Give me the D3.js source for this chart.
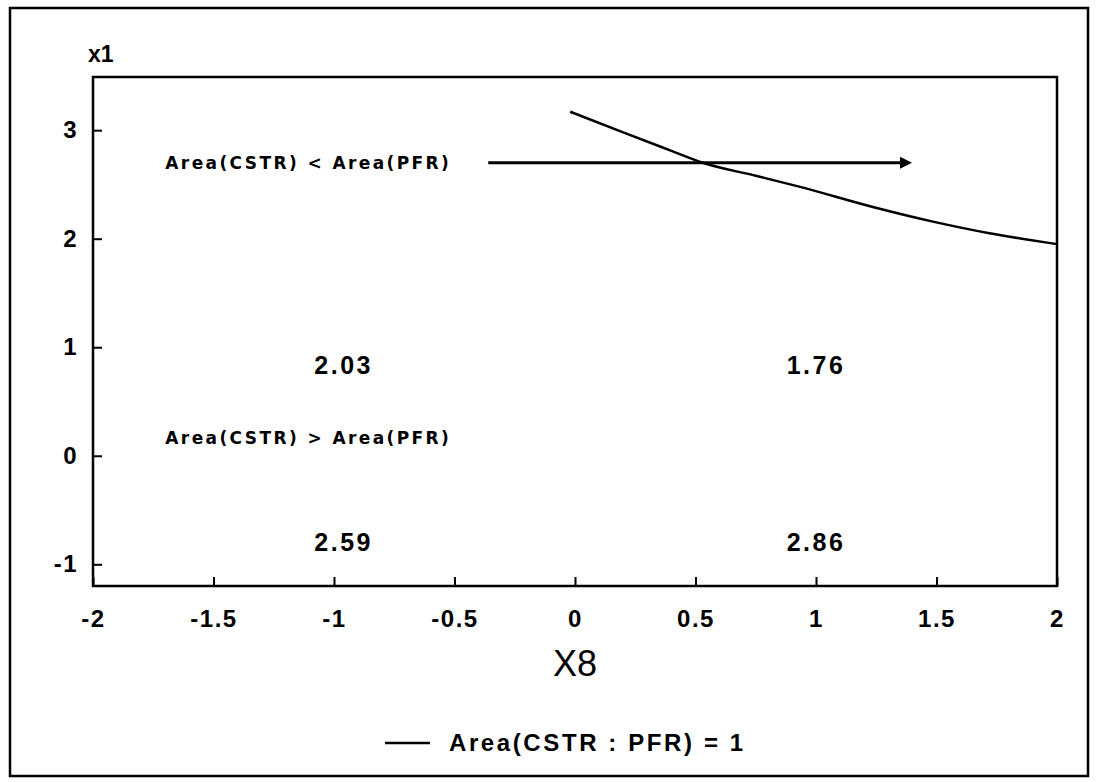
<!DOCTYPE html>
<html>
<head>
<meta charset="utf-8">
<script src="https://cdn.jsdelivr.net/npm/d3@7"></script>
<style>
  body { margin: 0; background: #fff; }
  svg { display: block; }
  text { font-family: "Liberation Sans", Arial, sans-serif; fill: #000; }
</style>
</head>
<body>
<svg width="1096" height="782"></svg>
<script>
const svg = d3.select("svg");

// boundary curve, Area(CSTR : PFR) = 1
const curveX = [-0.02, 0.2, 0.4, 0.53, 0.75, 0.93, 1.24, 1.49, 1.72, 2.0];
const curveY = [3.17, 2.98, 2.81, 2.70, 2.58, 2.48, 2.29, 2.155, 2.05, 1.95];

const xTicks = [-2, -1.5, -1, -0.5, 0, 0.5, 1, 1.5, 2];
const yTicks = [-1, 0, 1, 2, 3];

const arrowX = [-0.36, 1.40];
const arrowY = 2.70;

const regionLabels = ["Area(CSTR) < Area(PFR)", "Area(CSTR) > Area(PFR)"];
const regionX = [-1.70, -1.70];
const regionY = [2.70, 0.16];

const valueLabels = ["2.03", "1.76", "2.59", "2.86"];
const valueX = [-0.96, 1.0, -0.96, 1.0];
const valueY = [0.83, 0.83, -0.80, -0.80];

const legendLabel = "Area(CSTR : PFR) = 1";

const margin = { left: 93, right: 1057, top: 77, bottom: 586 };

const x = d3.scaleLinear().domain([-2, 2]).range([margin.left, margin.right]);
const y = d3.scaleLinear().domain([-1.2, 3.49]).range([margin.bottom, margin.top]);

// outer border
svg.append("rect")
  .attr("x", 10).attr("y", 8)
  .attr("width", 1078).attr("height", 768)
  .attr("fill", "none").attr("stroke", "#000").attr("stroke-width", 2.5);

// axes
const xAxis = svg.append("g")
  .attr("transform", `translate(0,${margin.bottom})`)
  .call(d3.axisBottom(x).tickValues(xTicks).tickSize(-9).tickPadding(24).tickFormat(d => String(d)));

const yAxis = svg.append("g")
  .attr("transform", `translate(${margin.left},0)`)
  .call(d3.axisLeft(y).tickValues(yTicks).tickSize(-9).tickPadding(15).tickFormat(d => String(d)));

[xAxis, yAxis].forEach(g => {
  g.select(".domain").remove();
  g.selectAll(".tick line").attr("stroke", "#000").attr("stroke-width", 2);
  g.selectAll(".tick text")
    .attr("fill", "#000")
    .style("font-size", "24px")
    .style("font-weight", "bold")
    .style("letter-spacing", "1.5px");
});

// plot frame
svg.append("rect")
  .attr("x", margin.left).attr("y", margin.top)
  .attr("width", margin.right - margin.left)
  .attr("height", margin.bottom - margin.top)
  .attr("fill", "none").attr("stroke", "#000").attr("stroke-width", 2.5);

// axis titles
svg.append("text")
  .attr("x", 88).attr("y", 62)
  .style("font-size", "23px").style("font-weight", "bold")
  .text("x1");

svg.append("text")
  .attr("x", (margin.left + margin.right) / 2).attr("y", 676)
  .attr("text-anchor", "middle")
  .style("font-size", "36px")
  .text("X8");

// arrow
svg.append("defs").append("marker")
  .attr("id", "head")
  .attr("viewBox", "0 0 10 10")
  .attr("refX", 2).attr("refY", 5)
  .attr("markerWidth", 5).attr("markerHeight", 4)
  .attr("markerUnits", "strokeWidth")
  .attr("orient", "auto")
  .append("path")
  .attr("d", "M0,0L10,5L0,10Z")
  .attr("fill", "#000");

svg.append("line")
  .attr("x1", x(arrowX[0])).attr("x2", x(arrowX[1]) - 10)
  .attr("y1", y(arrowY)).attr("y2", y(arrowY))
  .attr("stroke", "#000").attr("stroke-width", 3)
  .attr("marker-end", "url(#head)");

// curve
const line = d3.line().x(d => x(d[0])).y(d => y(d[1])).curve(d3.curveMonotoneX);
svg.append("path")
  .datum(d3.zip(curveX, curveY))
  .attr("d", line)
  .attr("fill", "none").attr("stroke", "#000").attr("stroke-width", 2.5);

// region labels
svg.append("g").selectAll("text")
  .data(regionLabels)
  .join("text")
  .attr("x", (d, i) => x(regionX[i]))
  .attr("y", (d, i) => y(regionY[i]))
  .attr("dy", "0.35em")
  .style("font-family", "'DejaVu Sans', sans-serif")
  .style("font-size", "17px").style("font-weight", "bold")
  .style("letter-spacing", "2.4px")
  .text(d => d);

// value labels
svg.append("g").selectAll("text")
  .data(valueLabels)
  .join("text")
  .attr("x", (d, i) => x(valueX[i]))
  .attr("y", (d, i) => y(valueY[i]))
  .attr("dy", "0.35em")
  .attr("text-anchor", "middle")
  .style("font-size", "25px").style("font-weight", "bold")
  .style("letter-spacing", "2.5px")
  .text(d => d);

// legend
const legend = svg.append("g").attr("transform", "translate(385,743)");
legend.append("line")
  .attr("x1", 0).attr("x2", 45)
  .attr("stroke", "#000").attr("stroke-width", 2.5);
legend.append("text")
  .attr("x", 64).attr("dy", "0.35em")
  .style("font-size", "24px").style("font-weight", "bold")
  .style("letter-spacing", "2.6px")
  .text(legendLabel);
</script>
</body>
</html>
